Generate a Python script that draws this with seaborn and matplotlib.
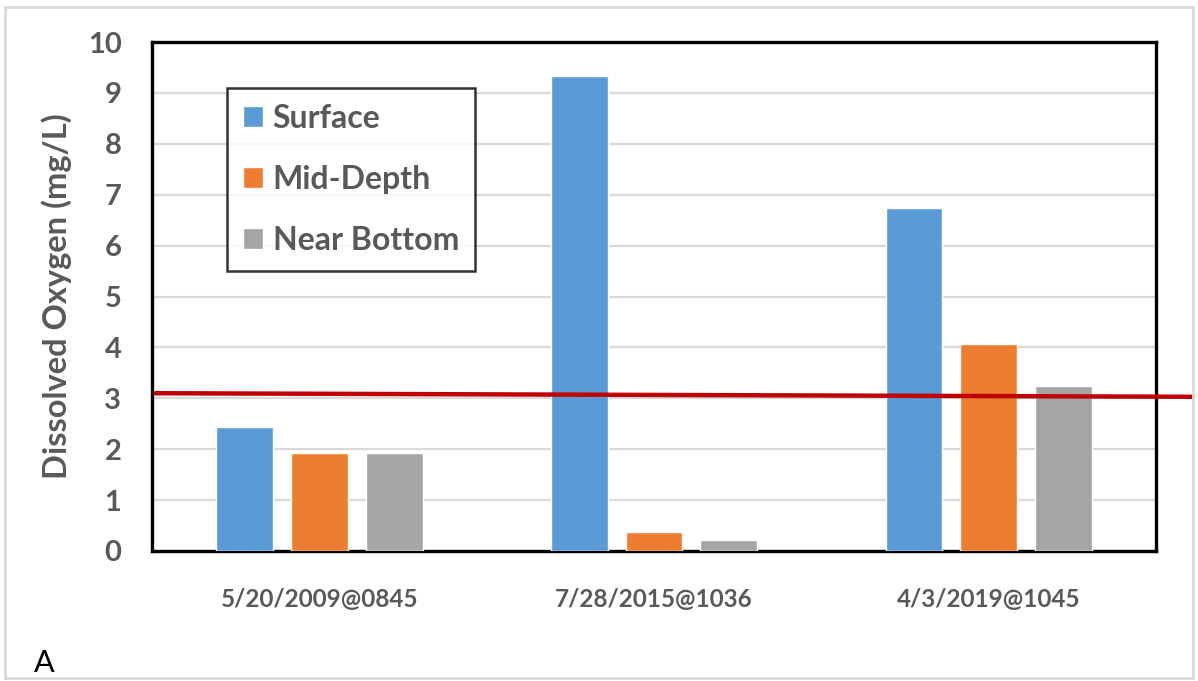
import pandas as pd
import numpy as np
import matplotlib.pyplot as plt
import seaborn as sns
from matplotlib.patches import Rectangle

# data
dates = ["5/20/2009@0845", "7/28/2015@1036", "4/3/2019@1045"]
depths = ["Surface", "Mid-Depth", "Near Bottom"]
surface = [2.43, 9.33, 6.73]
mid_depth = [1.92, 0.37, 4.06]
near_bottom = [1.92, 0.22, 3.24]
threshold = [3.10, 3.03]  # hand drawn red line, slightly sloped

colors = ["#5B9BD5", "#ED7D31", "#A5A5A5"]
text_col = "#595959"

df = pd.DataFrame({
    "date": dates * 3,
    "depth": np.repeat(depths, 3),
    "do": surface + mid_depth + near_bottom,
})

sns.set_style("white")
plt.rcParams['font.family'] = ['Lato', 'DejaVu Sans']

fig = plt.figure(figsize=(11.98, 6.81), dpi=100)
ax = fig.add_axes([0.1269, 0.1909, 0.8381, 0.7474])

sns.barplot(data=df, x="date", y="do", hue="depth", palette=colors,
            width=0.67, gap=0.24, saturation=1, ax=ax, zorder=3)

ax.set_ylim(0, 10)
ax.set_xlim(-0.5, 2.5)
ax.set_yticks(range(0, 11))
ax.yaxis.grid(True, color="#D9D9D9", lw=1.6, zorder=0)
ax.set_axisbelow(True)
for s in ax.spines.values():
    s.set_color("black")
    s.set_linewidth(2.4)
    s.set_visible(True)

ax.tick_params(axis="y", labelsize=21, labelcolor=text_col, length=0, pad=22)
ax.tick_params(axis="x", labelsize=17.5, labelcolor=text_col, length=0, pad=27)
for lab in ax.get_yticklabels() + ax.get_xticklabels():
    lab.set_fontweight("bold")
ax.set_xlabel("")
ax.set_ylabel("Dissolved Oxygen (mg/L)", fontsize=23.5, color=text_col,
              fontweight="bold", labelpad=11)

# threshold line runs past the right edge of the plot
ax.plot([-0.49, 2.61], threshold, color="#C00000", lw=3.2, clip_on=False, zorder=5)

leg = ax.legend(loc="upper left", bbox_to_anchor=(0.075, 0.91), fontsize=23,
                frameon=True, fancybox=False, edgecolor="black",
                handlelength=0.62, handleheight=0.62, handletextpad=0.3,
                labelspacing=1.0, borderpad=0.5, borderaxespad=0)
leg.get_frame().set_linewidth(1.8)
for t in leg.get_texts():
    t.set_color(text_col)
    t.set_fontweight("bold")

fig.text(0.028, 0.013, "A", fontsize=22, color="black")
fig.patches.append(Rectangle((0.004, 0.004), 0.992, 0.986, transform=fig.transFigure,
                             fill=False, edgecolor="#D9D9D9", lw=2))

fig.savefig("out.png", dpi=100)
